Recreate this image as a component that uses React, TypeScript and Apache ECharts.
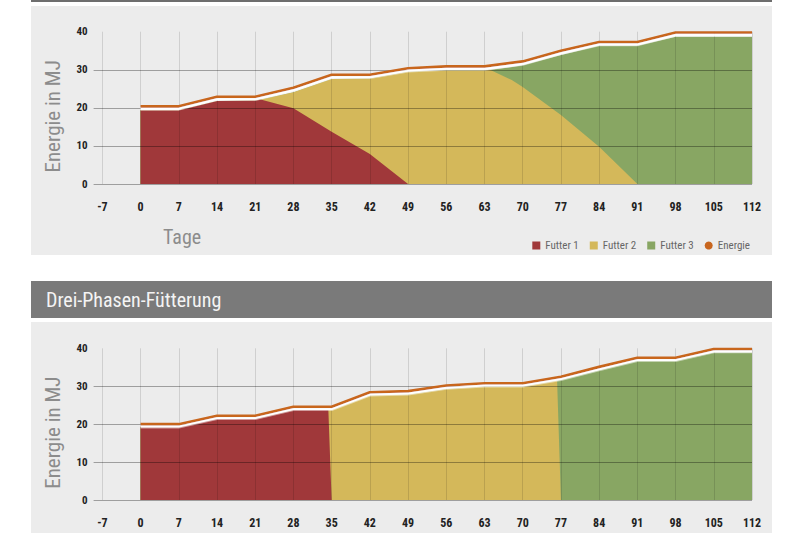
import React, { useEffect, useRef } from "react";
import * as echarts from "echarts";

const NARROW = "'Liberation Sans Narrow', 'Arial Narrow', 'Roboto Condensed', 'DejaVu Sans Condensed', sans-serif";

// tick labels
const xTicks = [-7, 0, 7, 14, 21, 28, 35, 42, 49, 56, 63, 70, 77, 84, 91, 98, 105, 112];

// top chart (Futter shares in MJ)
const topDays = [0, 7, 14, 21, 22, 28, 35, 42, 49, 56, 63, 64, 68, 70, 77, 84, 91, 98, 105, 112];
const topFutter1 = [19.4, 19.4, 21.8, 21.9, 22.2, 19.9, 13.7, 7.9, 0, 0, 0, 0, 0, 0, 0, 0, 0, 0, 0, 0];
const topFutter2 = [0, 0, 0, 0, 0, 4.2, 13.9, 19.8, 29.5, 29.9, 29.9, 30.0, 27.3, 25.5, 18.1, 9.8, 0, 0, 0, 0];
const topFutter3 = [0, 0, 0, 0, 0, 0, 0, 0, 0, 0, 0, 0, 3.4, 5.7, 15.8, 26.5, 36.3, 38.7, 38.7, 38.7];

// energy line (both charts)
const energyDays = [0, 7, 14, 21, 28, 35, 42, 49, 56, 63, 70, 77, 84, 91, 98, 105, 112];
const topEnergy = [20.4, 20.4, 22.9, 22.9, 25.3, 28.7, 28.7, 30.4, 30.9, 30.9, 32.2, 35.0, 37.3, 37.3, 39.8, 39.8, 39.8];

// bottom chart (Drei-Phasen-Fütterung)
const botDays = [0, 7, 14, 21, 28, 34.4, 35, 42, 49, 56, 63, 70, 76.3, 77, 84, 91, 98, 105, 112];
const botFutter1 = [19.3, 19.3, 21.4, 21.4, 23.7, 23.7, 0, 0, 0, 0, 0, 0, 0, 0, 0, 0, 0, 0, 0];
const botFutter2 = [0, 0, 0, 0, 0, 0, 23.8, 27.6, 27.8, 29.3, 29.9, 29.9, 31.5, 0, 0, 0, 0, 0, 0];
const botFutter3 = [0, 0, 0, 0, 0, 0, 0, 0, 0, 0, 0, 0, 0, 31.8, 34.3, 36.8, 36.8, 38.9, 38.9];
const botEnergy = [20.0, 20.0, 22.2, 22.2, 24.6, 24.6, 28.4, 28.7, 30.2, 30.8, 30.8, 32.5, 35.1, 37.5, 37.5, 39.8, 39.8];

const seriesNames = ["Futter 1", "Futter 2", "Futter 3"];
const colors = ["#a0383a", "#d4b85a", "#88a663"];
const energyColor = "#c8661f";

const pair = (xs: number[], ys: number[]) => xs.map((x, i) => [x, ys[i]]);

export default function App() {
  const ref = useRef<HTMLDivElement>(null);
  useEffect(() => {
    if (!ref.current) return;
    const chart = echarts.init(ref.current, null, { renderer: "svg" });

    const makeX = (gridIndex: number) => ({
      type: "value",
      gridIndex,
      min: -8.6,
      max: 112,
      z: 3,
      axisLine: { show: false },
      axisTick: { show: false, customValues: xTicks },
      axisLabel: {
        customValues: xTicks,
        margin: 17,
        fontSize: 12,
        fontWeight: "bold",
        color: "#222",
        fontFamily: NARROW,
      },
      splitLine: { show: true, lineStyle: { color: "rgba(0,0,0,0.12)", width: 1 } },
    });
    const makeY = (gridIndex: number) => ({
      type: "value",
      gridIndex,
      min: 0,
      max: 40,
      interval: 10,
      z: 3,
      name: "Energie in MJ",
      nameLocation: "middle",
      nameRotate: 90,
      nameGap: 30,
      nameTextStyle: { fontSize: 21, color: "#8c8c8c", fontFamily: NARROW, padding: [0, 17, 0, 0] },
      axisLine: { show: false },
      axisTick: { show: false },
      axisLabel: { margin: 6, fontSize: 11, fontWeight: "bold", color: "#222", fontFamily: NARROW },
      splitLine: { show: true, showMaxLine: false, lineStyle: { color: "rgba(0,0,0,0.33)", width: 1 } },
    });

    // Layered (cumulative) areas: the upper feed is drawn first, the lower ones on top of it.
    const areaSeries = (idx: number, xs: number[], vals: number[][]) => {
      const cumul = vals.map((_, i) =>
        xs.map((__, k) => {
          let s = 0;
          for (let j = 0; j <= i; j++) s += vals[j][k];
          return +s.toFixed(2);
        })
      );
      return seriesNames
        .map((name, i) => ({
          name,
          type: "line",
          xAxisIndex: idx,
          yAxisIndex: idx,
          color: colors[i],
          symbol: "none",
          z: 2,
          lineStyle: { width: 0, color: colors[i] },
          itemStyle: { color: colors[i] },
          areaStyle: { color: colors[i], opacity: 1, origin: "start" },
          data: pair(xs, cumul[i]),
        }))
        .reverse();
    };

    const energySeries = (idx: number, vals: number[]) => ({
      name: "Energie",
      type: "line",
      xAxisIndex: idx,
      yAxisIndex: idx,
      symbol: "none",
      z: 5,
      color: energyColor,
      itemStyle: { color: energyColor },
      lineStyle: {
        color: energyColor,
        width: 2.6,
        shadowColor: "#ffffff",
        shadowBlur: 0,
        shadowOffsetY: 2.5,
      },
      data: pair(energyDays, vals),
    });

    chart.setOption({
      animation: false,
      textStyle: { fontFamily: NARROW },
      grid: [
        { left: 93.6, right: 48, top: 31.7, height: 152.3 },
        { left: 93.6, right: 48, top: 348.3, height: 151.7 },
      ],
      xAxis: [makeX(0), makeX(1)],
      yAxis: [makeY(0), makeY(1)],
      legend: {
        data: [
          { name: "Futter 1", icon: "rect" },
          { name: "Futter 2", icon: "rect" },
          { name: "Futter 3", icon: "rect" },
          { name: "Energie", icon: "circle" },
        ],
        right: 45,
        top: 235,
        itemWidth: 8,
        itemHeight: 8,
        itemGap: 11,
        textStyle: { fontSize: 11, color: "#666", fontFamily: NARROW },
      },
      graphic: [
        { type: "rect", z: -10, shape: { x: 31, y: 0, width: 741, height: 2 }, style: { fill: "#6e6e6e" } },
        { type: "rect", z: -10, shape: { x: 31, y: 6, width: 741, height: 249 }, style: { fill: "#ececec" } },
        { type: "rect", z: -10, shape: { x: 31, y: 281, width: 741, height: 37 }, style: { fill: "#7a7a7a" } },
        { type: "rect", z: -10, shape: { x: 31, y: 322, width: 741, height: 215 }, style: { fill: "#ececec" } },
        {
          type: "text",
          z: 1,
          x: 46,
          y: 299.5,
          style: {
            text: "Drei-Phasen-Fütterung",
            fill: "#f4f4f4",
            fontSize: 20,
            fontFamily: NARROW,
            verticalAlign: "middle",
          },
        },
        {
          type: "text",
          z: 1,
          x: 163,
          y: 237,
          style: { text: "Tage", fill: "#8c8c8c", fontSize: 20, fontFamily: NARROW, verticalAlign: "middle" },
        },
      ],
      series: [
        ...areaSeries(0, topDays, [topFutter1, topFutter2, topFutter3]),
        energySeries(0, topEnergy),
        ...areaSeries(1, botDays, [botFutter1, botFutter2, botFutter3]),
        energySeries(1, botEnergy),
      ],
    });
    return () => chart.dispose();
  }, []);
  return <div ref={ref} style={{ position: "absolute", left: 0, top: 0, width: 800, height: 533 }} />;
}
